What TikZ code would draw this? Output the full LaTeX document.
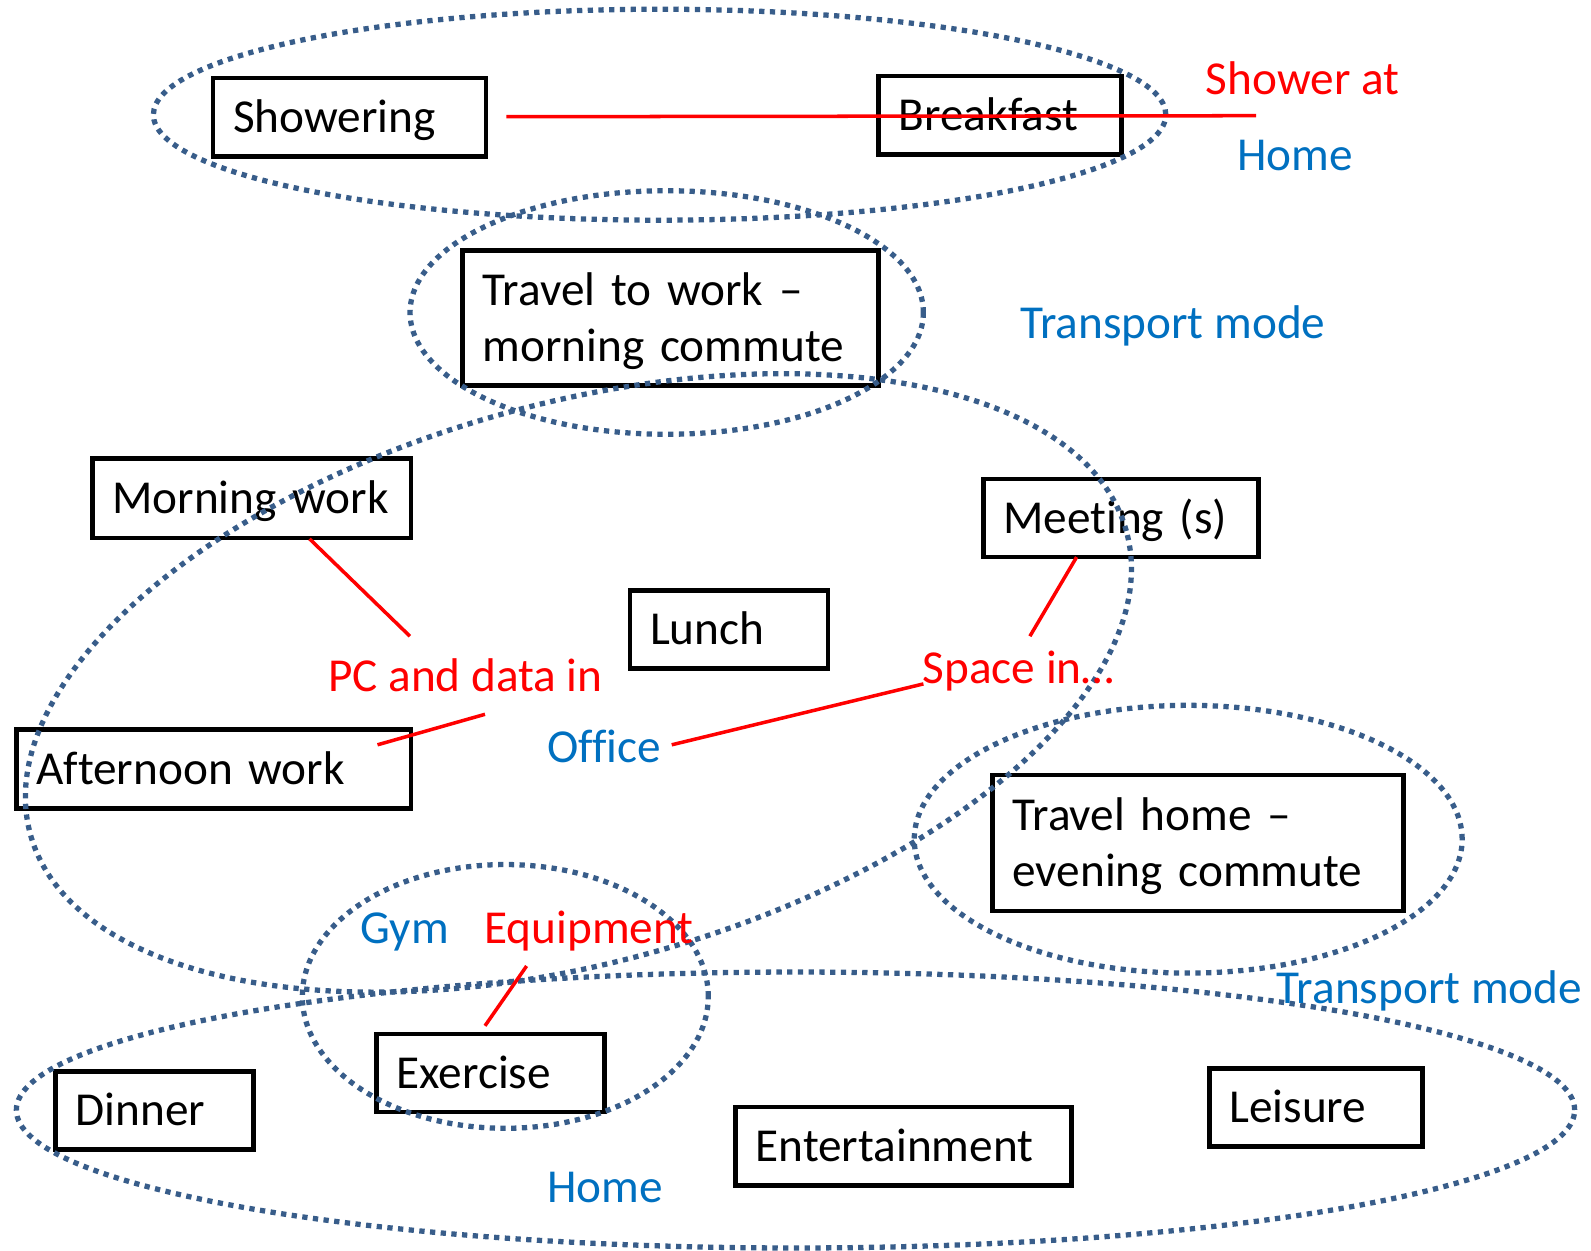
\documentclass[tikz,border=0pt]{standalone}
\usepackage{fontspec}
\setmainfont{Carlito}[Ligatures=NoCommon]
\newcommand{\dfont}{\fontsize{26.9}{31.9}\selectfont}
\newcommand{\topstr}{\rule{0pt}{0.95em}}
\newcommand{\botstr}{\rule[-0.3em]{0pt}{0.3em}}
\definecolor{zoneblue}{RGB}{56,93,138}
\definecolor{txtblue}{RGB}{0,112,192}
\tikzset{
 actbox/.style 2 args={draw=black, line width=2.6pt, minimum width=#1*0.02cm, minimum height=#2*0.02cm, text width=(#1-40)*0.02cm, inner xsep=0.4cm, inner ysep=0pt, align=left, font=\dfont, execute at begin node=\topstr, execute at end node=\botstr},
 zone/.style={draw=zoneblue, line width=3pt, dash pattern=on 3pt off 3.1pt},
 link/.style={draw=red, line width=2pt},
 redlab/.style={text=red, inner sep=0pt, anchor=west, font=\dfont, text height=0.64em, text depth=0pt},
 bluelab/.style={redlab, text=txtblue},
}
\begin{document}
\begin{tikzpicture}[x=0.02cm, y=-0.02cm]
\useasboundingbox (0,0) rectangle (1591,1250);
% boxes
\node[actbox={272.9}{78.2}] (show) at (349.6,117.2) {Showering};
\node[actbox={242.5}{78.1}] (break) at (1000,115.2) {Breakfast};
\node[actbox={416}{135}] (tw) at (670.7,318.1) {Travel to work –\\morning commute};
\node[actbox={318.6}{79.2}] (mw) at (251.6,498.2) {Morning work};
\node[actbox={275}{78.2}] (meet) at (1120.7,518) {Meeting (s)};
\node[actbox={197.9}{78.1}] (lunch) at (729,629.6) {Lunch};
\node[actbox={394.7}{79.1}] (aw) at (213.6,769.1) {Afternoon work};
\node[actbox={410.9}{136}] (th) at (1197.9,843.2) {Travel home –\\evening commute};
\node[actbox={228.3}{78.1}] (ex) at (490.6,1073) {Exercise};
\node[actbox={197.9}{78.2}] (din) at (154.7,1110.6) {Dinner};
\node[actbox={335.9}{78.2}] (ent) at (903.6,1146.1) {Entertainment};
\node[actbox={213.1}{78.1}] (lei) at (1316,1107.5) {Leisure};
% zones
\draw[zone] (659.6,114.7) ellipse [x radius=10.126cm, y radius=2.11cm];
\draw[zone] (666.7,312.5) ellipse [x radius=5.134cm, y radius=2.436cm];
\draw[zone, rotate around={15.5:(578.4,682.9)}] (578.4,682.9) ellipse [x radius=11.374cm, y radius=5.59cm];
\draw[zone] (1188.2,839.2) ellipse [x radius=5.48cm, y radius=2.678cm];
\draw[zone] (505.3,996.4) ellipse [x radius=4.06cm, y radius=2.638cm];
\draw[zone] (795.5,1110) ellipse [x radius=15.586cm, y radius=2.76cm];
% labels
\node[redlab] (shat) at (1205.5,89.2) {Shower at};
\node[bluelab] (home1) at (1236.9,165.3) {Home};
\node[bluelab] (tm1) at (1019.8,332.8) {Transport mode};
\node[redlab] (pc) at (327.7,685.9) {PC and data in};
\node[bluelab] (off) at (546.9,756.9) {Office};
\node[redlab] (space) at (922.4,677.8) {Space in…};
\node[bluelab] (tm2) at (1276.5,997.4) {Transport mode};
\node[bluelab] (gym) at (360.2,937.5) {Gym};
\node[redlab] (equip) at (484,937.5) {Equipment};
\node[bluelab] (home2) at (546.9,1197.3) {Home};
% red connectors
\coordinate (r1a) at (506.3,116.7);
\coordinate (r1b) at (1256.2,115.7);
\draw[link] (r1a) -- (r1b);
\coordinate (r2a) at (309.5,538.8);
\coordinate (r2b) at (409.9,636.2);
\draw[link] (r2a) -- (r2b);
\coordinate (r3a) at (377.5,744.8);
\coordinate (r3b) at (485,714.3);
\draw[link] (r3a) -- (r3b);
\coordinate (r4a) at (671.7,744.8);
\coordinate (r4b) at (923.4,683.9);
\draw[link] (r4a) -- (r4b);
\coordinate (r5a) at (1076.6,557.1);
\coordinate (r5b) at (1029.9,636.2);
\draw[link] (r5a) -- (r5b);
\coordinate (r6a) at (526.6,966);
\coordinate (r6b) at (485,1025.8);
\draw[link] (r6a) -- (r6b);
\end{tikzpicture}
\end{document}
